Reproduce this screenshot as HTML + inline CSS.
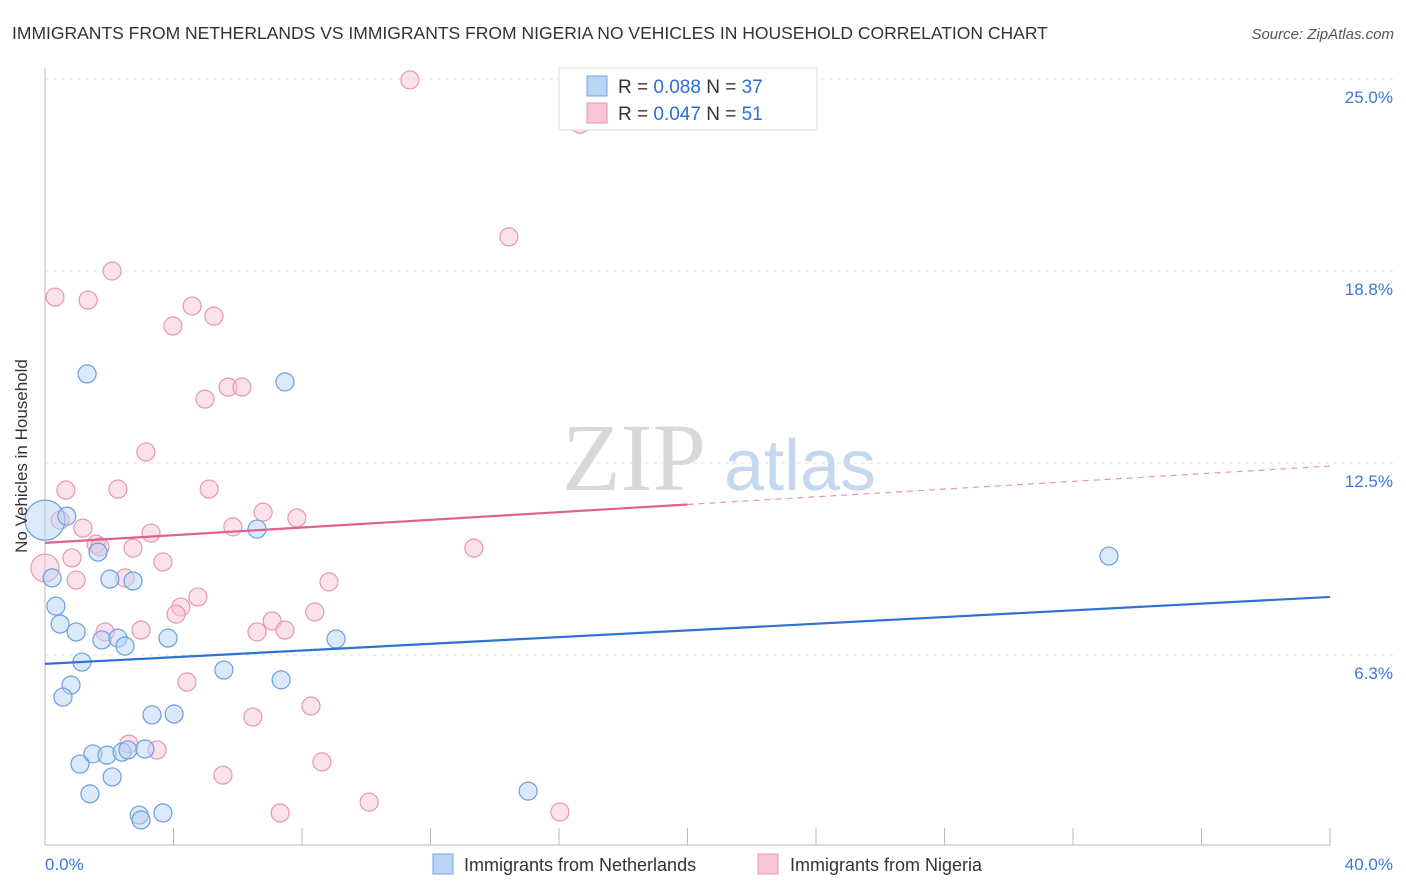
<!DOCTYPE html>
<html><head><meta charset="utf-8">
<style>
body{margin:0;background:#fff;font-family:"Liberation Sans",sans-serif;}
svg{display:block}
</style></head>
<body>
<svg width="1406" height="892" xmlns="http://www.w3.org/2000/svg" id="chart">
<text x="12" y="39" font-size="17.5" fill="#333">IMMIGRANTS FROM NETHERLANDS VS IMMIGRANTS FROM NIGERIA NO VEHICLES IN HOUSEHOLD CORRELATION CHART</text>
<text x="1394" y="39" font-size="15" fill="#555" font-style="italic" text-anchor="end">Source: ZipAtlas.com</text>
<g id="grid"></g>
<g>
<text x="634" y="490" font-size="96" fill="#d8d8d8" font-family="Liberation Serif,serif" text-anchor="middle">ZIP</text>
<text x="800" y="490" font-size="72" fill="#c6d8ee" text-anchor="middle">atlas</text>
</g>
<g id="axes"></g>
<g id="pts"></g>
<g id="trends"></g>
<text x="27" y="456" font-size="17" fill="#333" text-anchor="middle" transform="rotate(-90 27 456)">No Vehicles in Household</text>
<g>
<rect x="559" y="68" width="258" height="62" fill="#fff" stroke="#ddd"/>
<rect x="587" y="76" width="20" height="20" fill="#b9d4f5" stroke="#7aa6e0"/>
<rect x="587" y="103" width="20" height="20" fill="#f8c6d5" stroke="#e896b0"/>
<text x="618" y="93" font-size="19" fill="#333">R = <tspan fill="#2b6fd6">0.088</tspan>   N = <tspan fill="#2b6fd6">37</tspan></text>
<text x="618" y="120" font-size="19" fill="#333">R = <tspan fill="#2b6fd6">0.047</tspan>   N = <tspan fill="#2b6fd6"> 51</tspan></text>
</g>
<g>
<rect x="433" y="854" width="20" height="20" fill="#b9d4f5" stroke="#7aa6e0"/>
<text x="464" y="871" font-size="18" fill="#333">Immigrants from Netherlands</text>
<rect x="758" y="854" width="20" height="20" fill="#f8c6d5" stroke="#e896b0"/>
<text x="790" y="871" font-size="18" fill="#333">Immigrants from Nigeria</text>
</g>
</svg>
<script>
const yTicks=[6.25,12.5,18.75,25];
const yTickLabels=["6.3%","12.5%","18.8%","25.0%"];
const xTickLabels=["0.0%","40.0%"];
const blueX=[0,0.68,1.31,7.47,0.22,1.65,2.02,2.74,0.34,0.47,0.97,1.77,2.27,2.49,3.83,6.60,9.06,1.15,5.57,0.81,0.56,7.35,3.33,4.02,1.49,1.09,1.93,2.40,2.58,3.11,2.09,1.40,2.93,2.99,3.67,15.04,33.12];
const blueY=[10.64,10.77,15.40,15.14,8.76,9.60,8.72,8.66,7.84,7.26,7.00,6.74,6.80,6.54,6.80,10.35,6.77,6.02,5.76,5.27,4.88,5.44,4.30,4.33,3.03,2.70,2.99,3.09,3.16,3.19,2.28,1.73,1.04,0.88,1.11,1.82,9.47];
const pinkX=[11.36,16.65,14.44,2.09,0.31,1.34,4.58,5.26,3.98,5.70,6.13,4.98,3.14,0.65,2.27,5.11,0.47,1.18,6.79,7.84,5.85,3.30,1.59,1.71,2.74,0.84,3.67,13.35,0,0.97,2.49,8.84,4.23,4.08,4.76,8.40,7.07,2.99,1.87,6.60,7.47,4.42,8.28,6.47,2.61,3.49,5.54,8.62,10.09,7.32,16.03];
const pinkY=[24.97,23.53,19.86,18.75,17.90,17.80,17.61,17.28,16.96,14.97,14.97,14.58,12.86,11.62,11.65,11.65,10.64,10.38,10.90,10.71,10.42,10.22,9.86,9.77,9.73,9.41,9.28,9.73,9.08,8.69,8.76,8.63,7.81,7.58,8.14,7.65,7.36,7.06,7.00,7.00,7.06,5.37,4.59,4.23,3.35,3.16,2.34,2.77,1.46,1.11,1.14];
const blueTrend=[5.96,8.14];
const pinkTrend=[9.9,12.4];
const NS="http://www.w3.org/2000/svg";
const X=v=>45+v/40*1285;
const Y=v=>847-v/25*768;
function mk(tag,attrs,parent){const e=document.createElementNS(NS,tag);for(const k in attrs)e.setAttribute(k,attrs[k]);parent.appendChild(e);return e;}
const grid=document.getElementById('grid'),axes=document.getElementById('axes'),pts=document.getElementById('pts'),tr=document.getElementById('trends');
yTicks.forEach((t,i)=>{
 const l=mk('line',{x1:45,x2:1394,y1:Y(t),y2:Y(t),stroke:'#e2e2e2','stroke-dasharray':'4 4'},grid);
 
 
 const tx=mk('text',{x:1393,y:Y(t)+24,'font-size':17,fill:'#3b78d8','text-anchor':'end'},axes);
 tx.textContent=yTickLabels[i];
 
 
});
const xa=mk('line',{x1:45,x2:1330,y1:845,y2:845,stroke:'#bbb'},axes);


const ya=mk('line',{x1:45,x2:45,y1:68,y2:845,stroke:'#bbb'},axes);


for(let i=0;i<=10;i++){
 const t=mk('line',{x1:X(i*4),x2:X(i*4),y1:828,y2:845,stroke:'#bbb'},axes);
 
 
}
[[0,'start',45],[40,'end',1393]].forEach((d,i)=>{
 const tx=mk('text',{x:d[2],y:870,'font-size':17,fill:'#3b78d8','text-anchor':d[1]},axes);
 tx.textContent=xTickLabels[i];
 
 
});
function dots(xs,ys,fill,stroke,name){
 xs.forEach((x,i)=>{
  const r=(x===0)?(name==='blue-point'?20:14):9;
  const c=mk('circle',{cx:X(x),cy:Y(ys[i]),r:r,fill:fill,'fill-opacity':0.5,stroke:stroke,'stroke-width':1.2},pts);
  
  
 });
}
dots(pinkX,pinkY,'#f8c6d5','#e896b0','pink-point');
dots(blueX,blueY,'#b9d4f5','#6a9ee0','blue-point');
const bl=mk('line',{x1:X(0),y1:Y(blueTrend[0]),x2:X(40),y2:Y(blueTrend[1]),stroke:'#2f72d6','stroke-width':2.2},tr);


const pm=pinkTrend[0]+(pinkTrend[1]-pinkTrend[0])*0.5;
const pl=mk('line',{x1:X(0),y1:Y(pinkTrend[0]),x2:X(20),y2:Y(pm),stroke:'#e0608e','stroke-width':2.2},tr);


const pd=mk('line',{x1:X(20),y1:Y(pm),x2:X(40),y2:Y(pinkTrend[1]),stroke:'#e896b0','stroke-width':1.2,'stroke-dasharray':'6 5'},tr);


</script>
</body></html>
